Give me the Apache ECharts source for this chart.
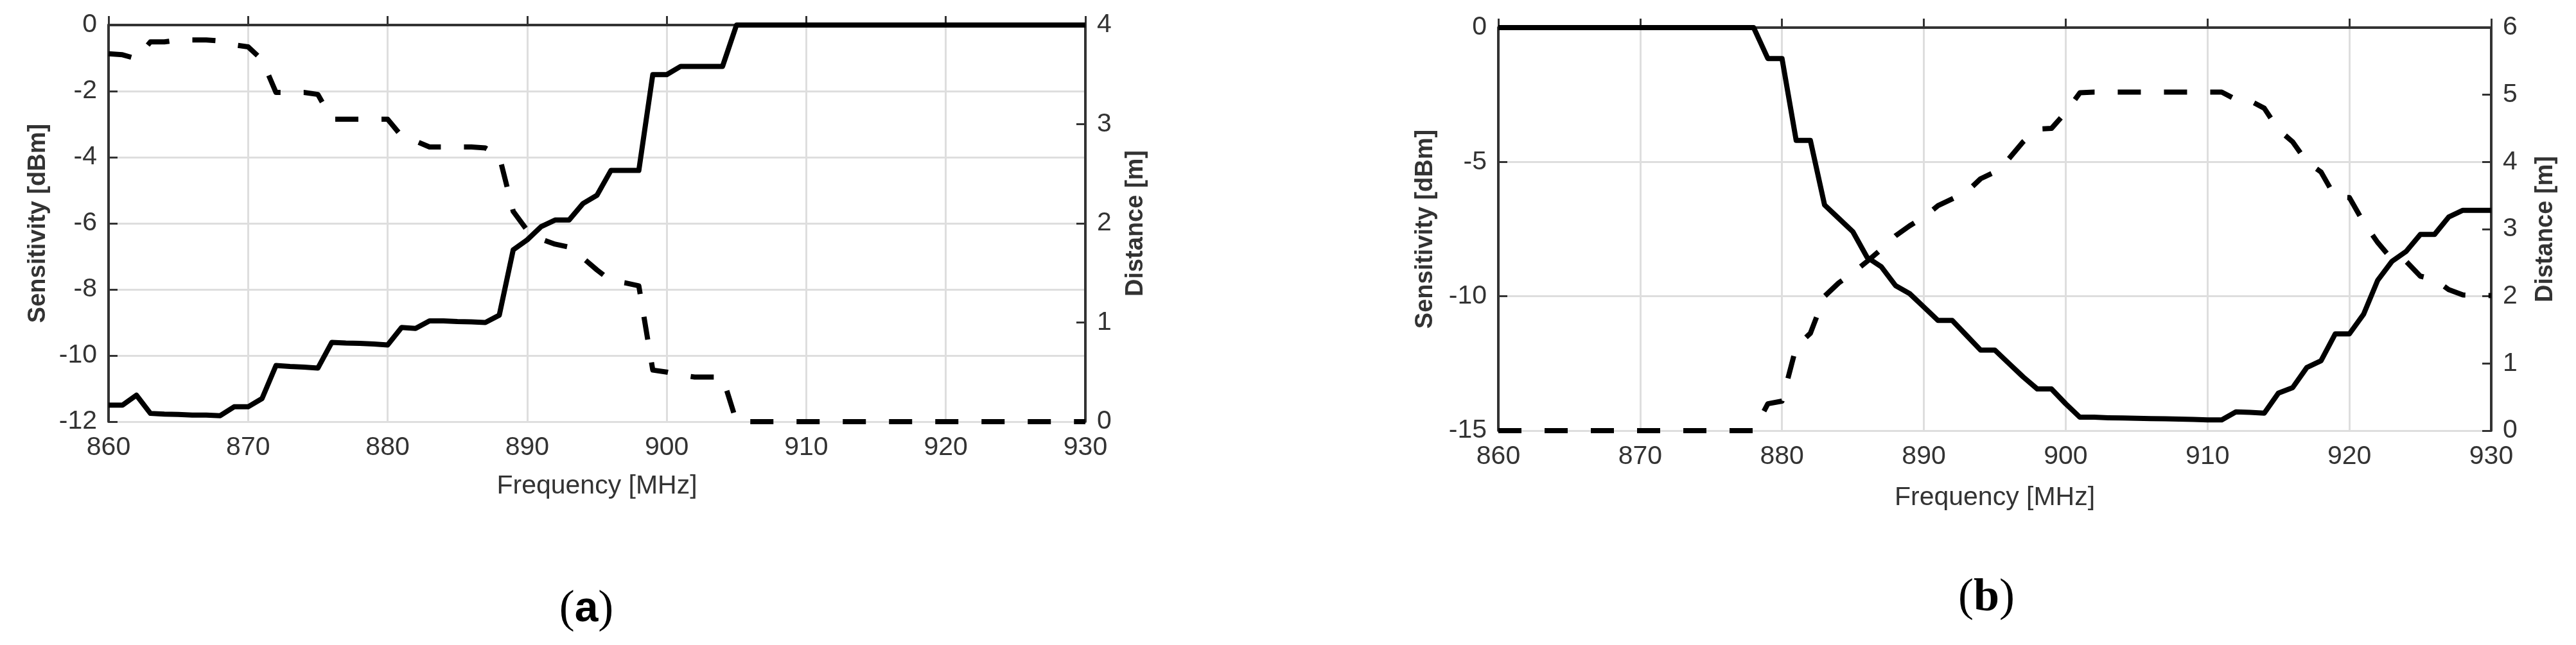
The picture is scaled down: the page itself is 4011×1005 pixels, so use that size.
<!DOCTYPE html>
<html>
<head>
<meta charset="utf-8">
<script src="https://cdn.jsdelivr.net/npm/echarts@6/dist/echarts.min.js"></script>
<style>
  html, body { margin: 0; padding: 0; background: #fff; }
  #chart { width: 4011px; height: 1005px; }
</style>
</head>
<body>
<div id="chart"></div>
<script>
// frequency points [MHz]
var freq = [860, 861, 862, 863, 864, 865, 866, 867, 868, 869,
  870, 871, 872, 873, 874, 875, 876, 877, 878, 879,
  880, 881, 882, 883, 884, 885, 886, 887, 888, 889,
  890, 891, 892, 893, 894, 895, 896, 897, 898, 899,
  900, 901, 902, 903, 904, 905, 906, 907, 908, 909,
  910, 911, 912, 913, 914, 915, 916, 917, 918, 919,
  920, 921, 922, 923, 924, 925, 926, 927, 928, 929, 930]

// (a) sensitivity [dBm] (solid) and distance [m] (dashed)
var sensA = [-11.5, -11.5, -11.2, -11.75, -11.77, -11.78, -11.8, -11.8, -11.82, -11.55,
  -11.55, -11.3, -10.3, -10.33, -10.35, -10.38, -9.6, -9.62, -9.63, -9.65,
  -9.68, -9.15, -9.18, -8.95, -8.95, -8.97, -8.98, -9.0, -8.78, -6.8,
  -6.5, -6.1, -5.9, -5.9, -5.4, -5.15, -4.4, -4.4, -4.4, -1.5,
  -1.5, -1.25, -1.25, -1.25, -1.25, 0, 0, 0, 0, 0,
  0, 0, 0, 0, 0, 0, 0, 0, 0, 0,
  0, 0, 0, 0, 0, 0, 0, 0, 0, 0, 0]
var distA = [3.71, 3.70, 3.66, 3.83, 3.83, 3.85, 3.85, 3.85, 3.84, 3.80,
  3.78, 3.65, 3.32, 3.32, 3.32, 3.30, 3.05, 3.05, 3.05, 3.05,
  3.05, 2.88, 2.83, 2.77, 2.77, 2.77, 2.77, 2.76, 2.68, 2.12,
  1.93, 1.84, 1.79, 1.76, 1.65, 1.53, 1.42, 1.40, 1.37, 0.52,
  0.50, 0.47, 0.45, 0.45, 0.45, 0, 0, 0, 0, 0,
  0, 0, 0, 0, 0, 0, 0, 0, 0, 0,
  0, 0, 0, 0, 0, 0, 0, 0, 0, 0, 0]

// (b) sensitivity [dBm] (solid) and distance [m] (dashed)
var sensB = [0, 0, 0, 0, 0, 0, 0, 0, 0, 0,
  0, 0, 0, 0, 0, 0, 0, 0, 0, -1.15,
  -1.15, -4.2, -4.2, -6.6, -7.1, -7.6, -8.55, -8.9, -9.6, -9.9,
  -10.4, -10.9, -10.9, -11.45, -12.0, -12.0, -12.5, -13.0, -13.45, -13.45,
  -14.0, -14.5, -14.5, -14.52, -14.53, -14.54, -14.55, -14.56, -14.57, -14.58,
  -14.6, -14.6, -14.3, -14.32, -14.35, -13.6, -13.4, -12.65, -12.4, -11.4,
  -11.4, -10.67, -9.4, -8.7, -8.33, -7.7, -7.7, -7.05, -6.8, -6.8, -6.8]
var distB = [0, 0, 0, 0, 0, 0, 0, 0, 0, 0,
  0, 0, 0, 0, 0, 0, 0, 0, 0, 0.40,
  0.44, 1.25, 1.45, 2.0, 2.2, 2.35, 2.52, 2.7, 2.9, 3.05,
  3.18, 3.35, 3.45, 3.55, 3.75, 3.85, 4.05, 4.3, 4.49, 4.50,
  4.74, 5.03, 5.04, 5.04, 5.04, 5.04, 5.04, 5.04, 5.04, 5.04,
  5.04, 5.04, 4.93, 4.91, 4.80, 4.48, 4.30, 4.00, 3.85, 3.48,
  3.47, 3.10, 2.80, 2.55, 2.52, 2.30, 2.25, 2.10, 2.02, 2.01, 2.01]

function pairs(ys) {
  return freq.map(function (f, i) { return [f, ys[i]] })
}

var font = 'Liberation Sans, Arial, sans-serif'
var txt = '#333'
var axisLine = { show: true, lineStyle: { color: '#333', width: 4 } }
var axisTick = { show: true, inside: true, length: 14, lineStyle: { color: '#333', width: 3 } }
var gridLine = { show: true, lineStyle: { color: '#dedede', width: 3 } }
var tickLabel = { color: txt, fontSize: 41, fontFamily: font }

function xAx(gi, gap) {
  return {
    type: 'value', gridIndex: gi, min: 860, max: 930, interval: 10,
    name: 'Frequency [MHz]', nameLocation: 'middle', nameGap: gap,
    nameTextStyle: { color: txt, fontSize: 41, fontFamily: font },
    axisLine: axisLine, axisTick: axisTick, splitLine: gridLine,
    axisLabel: Object.assign({ margin: 20 }, tickLabel)
  }
}

function yAx(gi, pos, min, max, step, name, gap, grid) {
  return {
    type: 'value', gridIndex: gi, position: pos, min: min, max: max, interval: step,
    name: name, nameLocation: 'middle', nameGap: gap, nameRotate: 90,
    nameTextStyle: { color: txt, fontSize: 38, fontWeight: 'bold', fontFamily: font },
    axisLine: axisLine, axisTick: axisTick,
    splitLine: grid ? gridLine : { show: false },
    axisLabel: Object.assign({ margin: 18 }, tickLabel)
  }
}

function solid(xi, yi, ys) {
  return {
    type: 'line', xAxisIndex: xi, yAxisIndex: yi, data: pairs(ys),
    showSymbol: false, silent: true, z: 3,
    lineStyle: { color: '#000', width: 8, cap: 'butt', join: 'round' }
  }
}

function dashed(xi, yi, ys) {
  return {
    type: 'line', xAxisIndex: xi, yAxisIndex: yi, data: pairs(ys),
    showSymbol: false, silent: true, z: 3,
    lineStyle: { color: '#000', width: 8, type: [36, 36], cap: 'butt', join: 'round' }
  }
}

function panelLabel(cx, cy, letter, letterFont) {
  return {
    type: 'text', x: cx, y: cy,
    style: {
      text: '{p|(}{l|' + letter + '}{p|)}',
      rich: {
        p: { fontSize: 72, fontFamily: 'Liberation Serif, serif', fill: '#000' },
        l: { fontSize: letterFont.size, fontWeight: 'bold', fontFamily: letterFont.family, fill: '#000' }
      },
      align: 'center', verticalAlign: 'middle'
    }
  }
}

var chart = echarts.init(document.getElementById('chart'), null, { renderer: 'canvas' })

chart.setOption({
  animation: false,
  backgroundColor: '#fff',
  grid: [
    { left: 169, top: 39, width: 1521, height: 618 },
    { left: 2333, top: 43, width: 1546, height: 628 }
  ],
  xAxis: [xAx(0, 80), xAx(1, 84)],
  yAxis: [
    yAx(0, 'left', -12, 0, 2, 'Sensitivity [dBm]', 90, true),
    yAx(0, 'right', 0, 4, 1, 'Distance [m]', 60, false),
    yAx(1, 'left', -15, 0, 5, 'Sensitivity [dBm]', 94, true),
    yAx(1, 'right', 0, 6, 1, 'Distance [m]', 66, false)
  ],
  series: [
    solid(0, 0, sensA),
    dashed(0, 1, distA),
    solid(1, 2, sensB),
    dashed(1, 3, distB)
  ],
  graphic: [
    panelLabel(913, 950, 'a', { size: 66, family: font }),
    panelLabel(3093, 932, 'b', { size: 72, family: 'Liberation Serif, serif' })
  ]
})
</script>
</body>
</html>
